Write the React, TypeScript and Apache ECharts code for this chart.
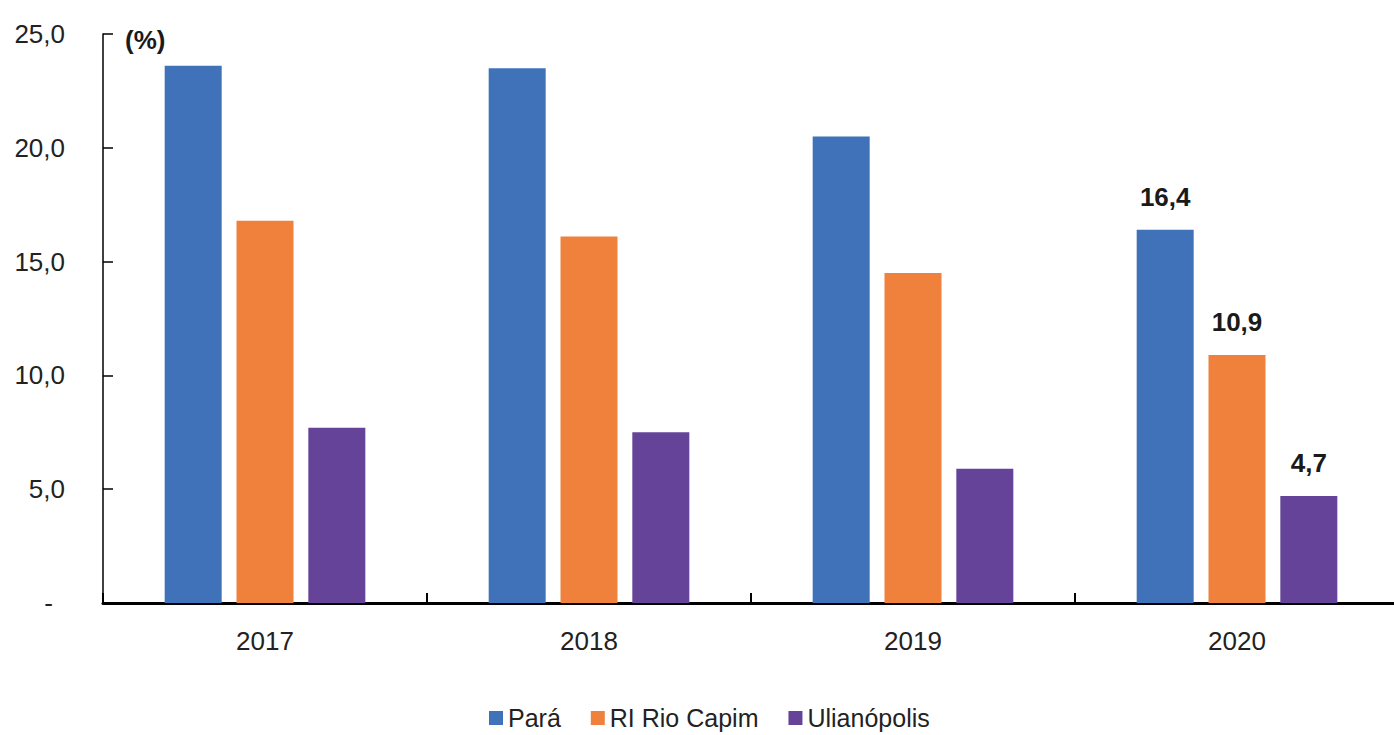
import React, { useEffect, useRef } from "react";
import * as echarts from "echarts";

const years = ["2017", "2018", "2019", "2020"];
const seriesNames = ["Pará", "RI Rio Capim", "Ulianópolis"];
const para = [23.6, 23.5, 20.5, 16.4];
const rioCapim = [16.8, 16.1, 14.5, 10.9];
const ulianopolis = [7.7, 7.5, 5.9, 4.7];
const labelledIndex = 3;
const yMin = 0;
const yMax = 25;
const yInterval = 5;
const unitLabel = "(%)";

const colors = ["#3F72B9", "#F0813C", "#654399"];
const FONT = "'Liberation Sans', Arial, sans-serif";
const FS = 26;

const fmt = (v: number) => v.toFixed(1).replace(".", ",");

export default function App() {
  const ref = useRef<HTMLDivElement>(null);
  useEffect(() => {
    if (!ref.current) return;
    const chart = echarts.init(ref.current, null, { renderer: "svg" });
    const values = [para, rioCapim, ulianopolis];
    const series = values.map((vals, si) => ({
      name: seriesNames[si],
      type: "bar",
      barWidth: 57,
      barGap: "26%",
      itemStyle: { color: colors[si] },
      label: {
        show: false,
        position: "top",
        distance: 20,
        fontFamily: FONT,
        fontSize: FS,
        fontWeight: "bold",
        color: "#1a1a1a",
        formatter: (p: any) => fmt(p.value),
      },
      data: vals.map((v, i) =>
        i === labelledIndex ? { value: v, label: { show: true } } : v
      ),
    }));
    chart.setOption({
      animation: false,
      backgroundColor: "#ffffff",
      textStyle: { fontFamily: FONT },
      grid: { left: 103, top: 34, width: 1296, height: 569, containLabel: false },
      legend: {
        data: seriesNames,
        left: 489,
        top: 705,
        padding: 0,
        icon: "rect",
        itemWidth: 14,
        itemHeight: 14,
        itemGap: 30,
        textStyle: { fontFamily: FONT, fontSize: 25, color: "#222", lineHeight: 26 },
      },
      xAxis: {
        type: "category",
        data: years,
        axisLine: { show: true, lineStyle: { color: "#000", width: 3 } },
        axisTick: { show: true, inside: true, length: 10, lineStyle: { color: "#000", width: 2 } },
        axisLabel: { fontFamily: FONT, fontSize: FS, color: "#222", margin: 25 },
        splitLine: { show: false },
      },
      yAxis: {
        type: "value",
        min: yMin,
        max: yMax,
        interval: yInterval,
        axisLine: { show: true, lineStyle: { color: "#000", width: 1.5 } },
        axisTick: { show: true, inside: true, length: 10, lineStyle: { color: "#000", width: 1.5 } },
        splitLine: { show: false },
        axisLabel: {
          fontFamily: FONT,
          fontSize: FS,
          color: "#222",
          margin: 38,
          formatter: (v: number) => (v === 0 ? "{z|-}" : fmt(v)),
          rich: { z: { fontFamily: FONT, fontSize: FS, color: "#222", padding: [0, 12, 0, 0] } },
        },
      },
      graphic: [
        {
          type: "text",
          left: 125,
          top: 27,
          style: { text: unitLabel, fontFamily: FONT, fontSize: FS, fontWeight: "bold", fill: "#1a1a1a" },
        },
      ],
      series,
    });
    return () => chart.dispose();
  }, []);
  return (
    <div
      ref={ref}
      style={{ position: "fixed", left: 0, top: 0, width: 1400, height: 735, background: "#fff" }}
    />
  );
}
